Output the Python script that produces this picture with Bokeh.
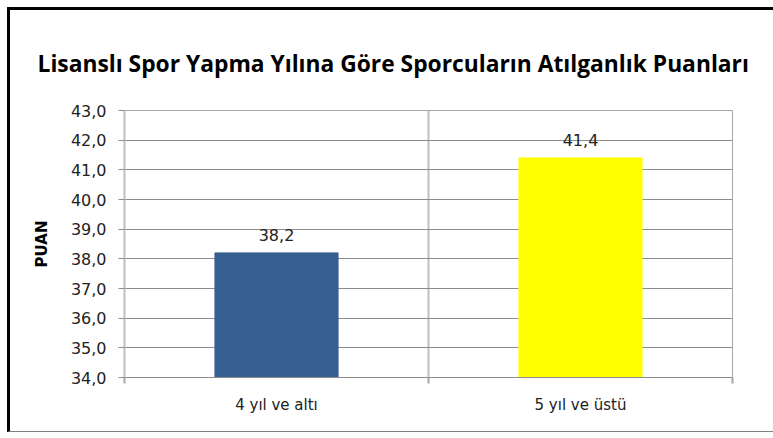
from bokeh.plotting import figure
from bokeh.models import ColumnDataSource, Range1d, FixedTicker, LabelSet
from bokeh.core.properties import value
from bokeh.embed import file_html
from bokeh.resources import INLINE

# ---- data ----
categories = ["4 yıl ve altı", "5 yıl ve üstü"]
values = [38.2, 41.4]
value_labels = ["38,2", "41,4"]
bar_colors = ["#376092", "#FFFF00"]
y_ticks = [34, 35, 36, 37, 38, 39, 40, 41, 42, 43]
y_tick_labels = ["34,0", "35,0", "36,0", "37,0", "38,0", "39,0", "40,0", "41,0", "42,0", "43,0"]
y_start, y_end = 34, 43
title_text = "Lisanslı Spor Yapma Yılına Göre Sporcuların Atılganlık Puanları"
y_label = "PUAN"

n = len(categories)
xs = [i + 0.5 for i in range(n)]
src = ColumnDataSource(dict(x=xs, top=values, bottom=[y_start] * n,
                            color=bar_colors, lab=value_labels))

FONT = "DejaVu Sans"
p = figure(width=769, height=425, output_backend="svg", toolbar_location=None,
           x_range=Range1d(0, n), y_range=Range1d(y_start, y_end),
           min_border_left=114, min_border_right=47, min_border_top=100, min_border_bottom=58)
p.styles = {"margin-left": "7px", "margin-top": "7px",
            "border-left": "3px solid #000", "border-top": "3px solid #000",
            "border-bottom": "1px solid #808080"}
p.background_fill_color = "white"
p.border_fill_color = "white"
p.outline_line_color = "#a6a6a6"

p.title.text = title_text
p.title.text_font = "Open Sans"
p.title.text_font_size = "22.8px"
p.title.text_font_style = "bold"
p.title.text_color = "#000000"
p.title.align = "left"
p.title.offset = -87
p.title.standoff = 64

p.vbar(x="x", top="top", bottom="bottom", width=0.405, fill_color="color",
       line_color="color", source=src)

labels = LabelSet(x="x", y="top", text="lab", source=src, text_align="center",
                  text_baseline="bottom", y_offset=12, text_font_size=value("16px"),
                  text_font=value(FONT), text_color="#222222")
p.add_layout(labels)

# y axis
p.yaxis.ticker = FixedTicker(ticks=y_ticks)
p.yaxis.major_label_overrides = {t: l for t, l in zip(y_ticks, y_tick_labels)}
p.yaxis.minor_tick_line_color = None
p.yaxis.major_tick_out = 6
p.yaxis.major_tick_in = 0
p.yaxis.major_tick_line_color = "#8c8c8c"
p.yaxis.axis_line_color = "#bfbfbf"
p.yaxis.axis_line_width = 2
p.yaxis.major_label_text_font = FONT
p.yaxis.major_label_text_font_size = "16px"
p.yaxis.major_label_text_color = "#222222"
p.yaxis.major_label_standoff = 12
p.yaxis.axis_label = y_label
p.yaxis.axis_label_text_font = FONT
p.yaxis.axis_label_text_font_size = "15px"
p.yaxis.axis_label_text_font_style = "bold"
p.yaxis.axis_label_text_color = "#000000"
p.yaxis.axis_label_standoff = 17

# x axis: labels at category centres, ticks at boundaries
p.xaxis.ticker = FixedTicker(ticks=xs, minor_ticks=list(range(n + 1)))
p.xaxis.major_label_overrides = {x: c for x, c in zip(xs, categories)}
p.xaxis.major_tick_line_color = None
p.xaxis.major_tick_out = 0
p.xaxis.major_tick_in = 0
p.xaxis.minor_tick_line_color = "#a6a6a6"
p.xaxis.minor_tick_line_width = 2
p.xaxis.minor_tick_out = 6
p.xaxis.minor_tick_in = 0
p.xaxis.axis_line_color = "#8c8c8c"
p.xaxis.major_label_text_font = FONT
p.xaxis.major_label_text_font_size = "15px"
p.xaxis.major_label_text_color = "#222222"
p.xaxis.major_label_standoff = 12

p.xgrid.ticker = FixedTicker(ticks=list(range(n + 1)))
p.xgrid.grid_line_color = "#bfbfbf"
p.xgrid.grid_line_width = 2
p.ygrid.ticker = FixedTicker(ticks=y_ticks)
p.ygrid.grid_line_color = "#8c8c8c"
p.ygrid.grid_line_width = 1

html = file_html(p, INLINE)
html = html.replace("</head>", "<style>html, body { overflow: hidden; }</style></head>", 1)
open("out.html", "w").write(html)
